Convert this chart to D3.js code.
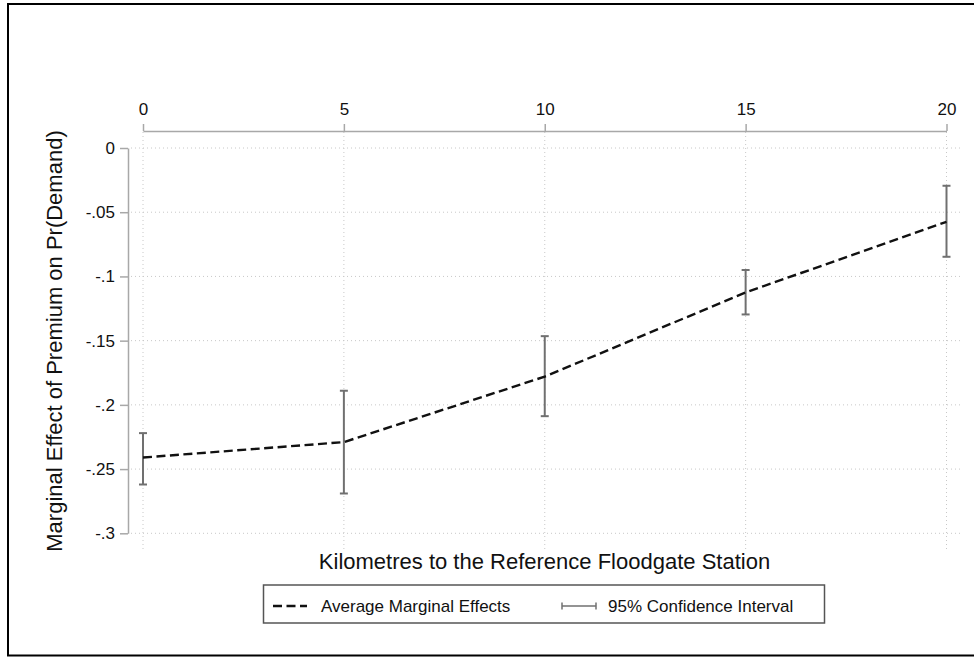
<!DOCTYPE html>
<html><head><meta charset="utf-8">
<script src="https://cdn.jsdelivr.net/npm/d3@7"></script>
<style>body{margin:0;background:#fff}svg{display:block}text{font-family:"Liberation Sans",Arial,sans-serif;fill:#111}</style>
</head><body>
<script>
const distances = [0, 5, 10, 15, 20];
const effects = [-0.241, -0.229, -0.178, -0.1125, -0.0575];
const ciLower = [-0.262, -0.269, -0.2088, -0.1296, -0.0847];
const ciUpper = [-0.222, -0.189, -0.1465, -0.095, -0.0294];
const xTicks = [0, 5, 10, 15, 20];
const yTicks = [0, -0.05, -0.1, -0.15, -0.2, -0.25, -0.3];
const yTickLabels = ["0", "-.05", "-.1", "-.15", "-.2", "-.25", "-.3"];

const W = 974, H = 657;
const svg = d3.select("body").append("svg").attr("width", W).attr("height", H);

// outer frame
svg.append("rect").attr("x", 8).attr("y", 4).attr("width", 980).attr("height", 651.5)
  .attr("fill", "none").attr("stroke", "#000").attr("stroke-width", 2);

const x = d3.scaleLinear().domain([0, 20]).range([143, 946.5]);
const y = d3.scaleLinear().domain([0, -0.3]).range([148, 533.3]);

// gridlines
const grid = svg.append("g").attr("stroke", "#c8c8c8").attr("stroke-width", 1).attr("stroke-dasharray", "1,3");
grid.selectAll("line.h").data(yTicks).join("line").attr("class", "h")
  .attr("x1", 131).attr("x2", 960).attr("y1", d => y(d)).attr("y2", d => y(d));
grid.selectAll("line.v").data(xTicks).join("line").attr("class", "v")
  .attr("x1", d => x(d)).attr("x2", d => x(d)).attr("y1", 132).attr("y2", 549);

const ff = "'Liberation Sans', Arial, sans-serif";

// x axis (top)
const xAxis = svg.append("g").attr("transform", "translate(0,131)")
  .call(d3.axisTop(x).tickValues(xTicks).tickFormat(d3.format("d")).tickSize(7).tickSizeOuter(0).tickPadding(9));
xAxis.attr("font-size", 17).attr("font-family", ff);
xAxis.select(".domain").attr("stroke", "#a8a8a8").attr("stroke-width", 1.5);
xAxis.selectAll(".tick line").attr("stroke", "#a8a8a8").attr("stroke-width", 1.5);
xAxis.selectAll(".tick text").attr("fill", "#111");

// y axis (left)
const yAxis = svg.append("g").attr("transform", "translate(128,0)")
  .call(d3.axisLeft(y).tickValues(yTicks).tickFormat((d, i) => yTickLabels[i]).tickSize(8).tickSizeOuter(0).tickPadding(5));
yAxis.attr("font-size", 17).attr("font-family", ff);
yAxis.select(".domain").attr("stroke", "#a8a8a8").attr("stroke-width", 1.5);
yAxis.selectAll(".tick line").attr("stroke", "#a8a8a8").attr("stroke-width", 1.5);
yAxis.selectAll(".tick text").attr("fill", "#111");

// error bars
const eb = svg.append("g").attr("stroke", "#707070").attr("stroke-width", 2);
distances.forEach((d, i) => {
  eb.append("line").attr("x1", x(d)).attr("x2", x(d)).attr("y1", y(ciLower[i])).attr("y2", y(ciUpper[i]));
  eb.append("line").attr("x1", x(d) - 4).attr("x2", x(d) + 4).attr("y1", y(ciLower[i])).attr("y2", y(ciLower[i]));
  eb.append("line").attr("x1", x(d) - 4).attr("x2", x(d) + 4).attr("y1", y(ciUpper[i])).attr("y2", y(ciUpper[i]));
});

// dashed line
const line = d3.line().x((d, i) => x(distances[i])).y(d => y(d));
svg.append("path").datum(effects).attr("d", line).attr("fill", "none")
  .attr("stroke", "#111").attr("stroke-width", 2.4).attr("stroke-dasharray", "9,4.5");

// axis titles
svg.append("text").attr("x", 544.5).attr("y", 569).attr("text-anchor", "middle").attr("font-size", 22)
  .text("Kilometres to the Reference Floodgate Station");
svg.append("text").attr("transform", "translate(62,341) rotate(-90)").attr("text-anchor", "middle").attr("font-size", 22)
  .text("Marginal Effect of Premium on Pr(Demand)");

// legend
svg.append("rect").attr("x", 263.5).attr("y", 585).attr("width", 561).attr("height", 38)
  .attr("fill", "#fff").attr("stroke", "#555").attr("stroke-width", 1.5);
svg.append("line").attr("x1", 273).attr("x2", 307).attr("y1", 606).attr("y2", 606)
  .attr("stroke", "#111").attr("stroke-width", 2.4).attr("stroke-dasharray", "9,4.5");
svg.append("text").attr("x", 321).attr("y", 612).attr("font-size", 17).text("Average Marginal Effects");
const lg = svg.append("g").attr("stroke", "#707070").attr("stroke-width", 1.5);
lg.append("line").attr("x1", 562).attr("x2", 596).attr("y1", 606).attr("y2", 606);
lg.append("line").attr("x1", 562).attr("x2", 562).attr("y1", 602.5).attr("y2", 609.5);
lg.append("line").attr("x1", 596).attr("x2", 596).attr("y1", 602.5).attr("y2", 609.5);
svg.append("text").attr("x", 608).attr("y", 612).attr("font-size", 17).text("95% Confidence Interval");
</script>
</body></html>
